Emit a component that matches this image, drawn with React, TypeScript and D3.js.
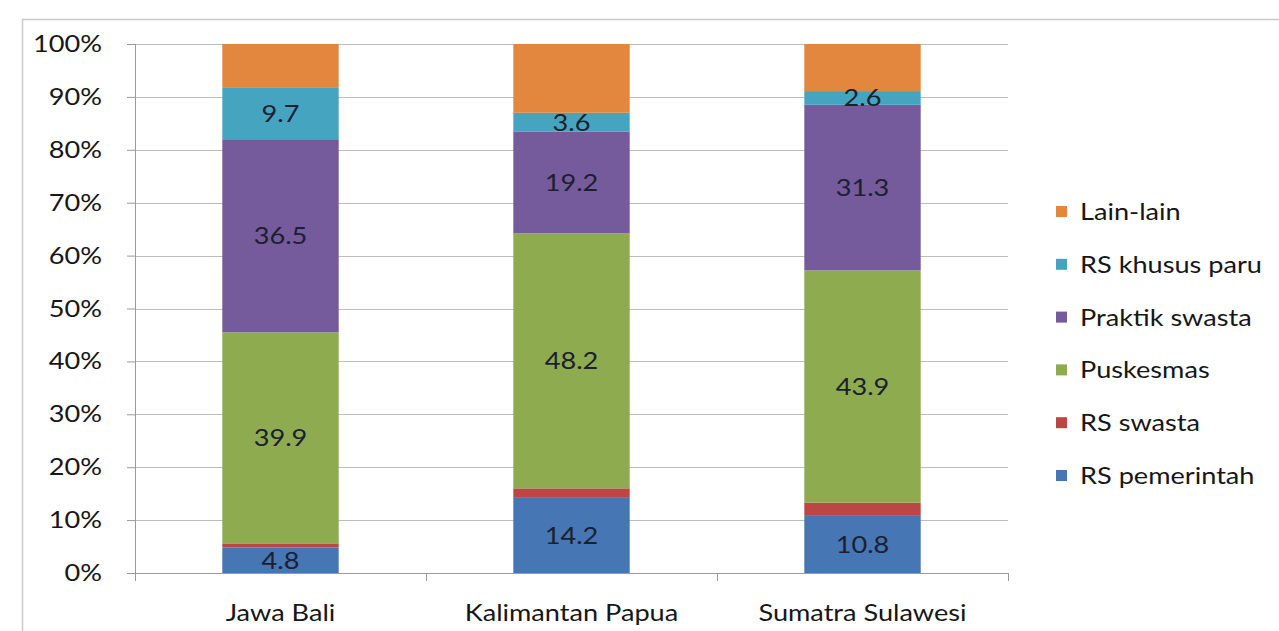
import React, { useEffect, useRef } from 'react';
import * as d3 from 'd3';

const categories = ['Jawa Bali', 'Kalimantan Papua', 'Sumatra Sulawesi'];
const seriesNames = ['RS pemerintah', 'RS swasta', 'Puskesmas', 'Praktik swasta', 'RS khusus paru', 'Lain-lain'];
const rsPemerintah = [4.8, 14.2, 10.8];
const rsSwasta = [0.8, 1.8, 2.5];
const puskesmas = [39.9, 48.2, 43.9];
const praktikSwasta = [36.5, 19.2, 31.3];
const rsKhususParu = [9.7, 3.6, 2.6];
const lainLain = [8.3, 13.0, 8.9];
// which series carry a value label
const labelled = [true, false, true, true, true, false];
const yTicks = [0, 10, 20, 30, 40, 50, 60, 70, 80, 90, 100];

const colors = ['#4676B4', '#BC4644', '#8EAB50', '#755A9C', '#45A5C0', '#E3873E'];
const FONT = 'Lato, Carlito, "Open Sans", sans-serif';
const FS = 23;
const SX = 1.18; // the source picture is stretched sideways

const W = 1279, H = 631;
const margin = { top: 44, right: 271, bottom: 58, left: 135 };

export default function App() {
	const ref = useRef<SVGSVGElement>(null);

	useEffect(() => {
		const svg = d3.select(ref.current);
		svg.selectAll('*').remove();

		const innerW = W - margin.left - margin.right;
		const innerH = H - margin.top - margin.bottom;

		const values = [rsPemerintah, rsSwasta, puskesmas, praktikSwasta, rsKhususParu, lainLain];
		const rows = categories.map((c, i) => {
			const r: any = { cat: c };
			seriesNames.forEach((s, j) => (r[s] = values[j][i]));
			return r;
		});
		const stacked = d3.stack().keys(seriesNames)(rows);

		const x = d3.scaleBand().domain(categories).range([0, innerW]).paddingInner(0.6).paddingOuter(0.3);
		const xEdge = d3.scaleLinear().domain([0, categories.length]).range([0, innerW]);
		const y = d3.scaleLinear().domain([0, 100]).range([innerH, 0]);

		const txt = (sel: any, px: (d: any) => number, py: (d: any) => number) =>
			sel.attr('transform', (d: any) => `translate(${px(d)},${py(d)}) scale(${SX},1)`)
				.attr('font-family', FONT).attr('font-size', FS).attr('fill', '#161616');

		// outer frame (cropped chart area)
		svg.append('path')
			.attr('d', `M22.5,${H} L22.5,19.5 L${W},19.5`)
			.attr('fill', 'none')
			.attr('stroke', '#c9c9c9')
			.attr('stroke-width', 1.5);

		const g = svg.append('g').attr('transform', `translate(${margin.left},${margin.top})`);

		// gridlines
		g.append('g')
			.selectAll('line')
			.data(yTicks.filter(t => t > 0))
			.join('line')
			.attr('x1', 0).attr('x2', innerW)
			.attr('y1', d => Math.round(y(d)) + 0.5).attr('y2', d => Math.round(y(d)) + 0.5)
			.attr('stroke', '#bdbdbd');

		// y axis
		const yAxis = g.append('g').call(d3.axisLeft(y).tickValues(yTicks).tickSize(8).tickFormat(d => `${d}%`));
		yAxis.select('.domain').attr('stroke', '#9a9a9a');
		yAxis.selectAll('.tick line').attr('stroke', '#9a9a9a');
		yAxis.selectAll('.tick text').remove();
		txt(g.append('g').selectAll('text').data(yTicks).join('text'), () => -33, d => y(d))
			.attr('text-anchor', 'end')
			.attr('dy', '0.35em')
			.text((d: number) => `${d}%`);

		// x axis
		const xa = g.append('g').attr('transform', `translate(0,${innerH})`);
		xa.append('line').attr('x1', 0).attr('x2', innerW).attr('y1', 0.5).attr('y2', 0.5).attr('stroke', '#9a9a9a');
		xa.selectAll('line.tk')
			.data(d3.range(categories.length + 1))
			.join('line')
			.attr('class', 'tk')
			.attr('x1', d => Math.round(xEdge(d)) + 0.5).attr('x2', d => Math.round(xEdge(d)) + 0.5)
			.attr('y1', 0).attr('y2', 8)
			.attr('stroke', '#9a9a9a');
		txt(xa.selectAll('text').data(categories).join('text'), d => x(d)! + x.bandwidth() / 2, () => 48)
			.attr('text-anchor', 'middle')
			.text((d: string) => d);

		// bars
		stacked.forEach((layer, j) => {
			g.append('g')
				.selectAll('rect')
				.data(layer)
				.join('rect')
				.attr('x', (d: any) => x(d.data.cat)!)
				.attr('width', x.bandwidth())
				.attr('y', d => y(d[1]))
				.attr('height', d => y(d[0]) - y(d[1]))
				.attr('fill', colors[j]);
		});

		// value labels
		stacked.forEach((layer, j) => {
			if (!labelled[j]) return;
			txt(g.append('g').selectAll('text').data(layer).join('text'),
				(d: any) => x(d.data.cat)! + x.bandwidth() / 2,
				(d: any) => (y(d[0]) + y(d[1])) / 2)
				.attr('dy', '0.36em')
				.attr('text-anchor', 'middle')
				.attr('fill', '#1b2030')
				.text((d: any) => (d[1] - d[0]).toFixed(1));
		});

		// legend
		const legendOrder = seriesNames.map((s, i) => ({ s, c: colors[i] })).reverse();
		const lg = svg.append('g').attr('transform', 'translate(1056,212)');
		const li = lg.selectAll('g').data(legendOrder).join('g')
			.attr('transform', (_, i) => `translate(0,${i * 52.8})`);
		li.append('rect').attr('x', 0).attr('y', -6).attr('width', 11).attr('height', 11).attr('fill', d => d.c);
		txt(li.append('text'), () => 24, () => 0)
			.attr('dy', '0.35em')
			.text((d: any) => d.s);
	}, []);

	return (
		<div style={{ position: 'fixed', left: 0, top: 0 }}>
			<svg ref={ref} width={W} height={H} style={{ display: 'block', background: '#fff' }} />
		</div>
	);
}
